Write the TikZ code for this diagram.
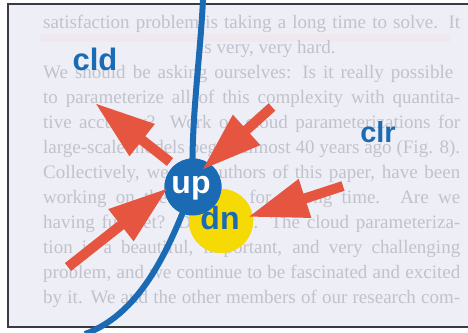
\documentclass[tikz,border=0pt]{standalone}
\usepackage{fontspec}
\setmainfont{Liberation Serif}
\newfontfamily\lsans{Liberation Sans}
\usetikzlibrary{arrows.meta}
\definecolor{bgc}{HTML}{EEEEF6}
\definecolor{redc}{HTML}{E6553F}
\definecolor{bluec}{HTML}{1A6AB4}
\definecolor{yelc}{HTML}{F6DA06}
\definecolor{ghost}{HTML}{C2C2CD}
\definecolor{framec}{HTML}{3A3A42}
\tikzset{
  bgtext/.style={anchor=base west, inner sep=0, text=ghost, font=\fontsize{19bp}{23bp}\selectfont},
  fatarrow/.style={draw=redc, line width=10bp, -{Triangle[length=60bp,width=38bp]}},
  bluecurve/.style={draw=bluec, line width=6bp},
  lbl/.style={anchor=base, inner sep=0, text=bluec, font=\lsans\bfseries\fontsize{31bp}{34bp}\selectfont},
}
\newcommand{\jline}[1]{\makebox[417bp][s]{#1}}
\begin{document}
\begin{tikzpicture}[x=1bp,y=-1bp]
\useasboundingbox (0,0) rectangle (468,332);
\fill[white] (0,0) rectangle (468,332);
\fill[bgc] (8,4) rectangle (468,327);
\begin{scope}
\clip (8,4) rectangle (468,327);
\fill[pink,opacity=0.12] (40,34) rectangle (450,42);
\node[bgtext] (t1) at (43,28) {\jline{satisfaction problem is taking a long time to solve. It}};
\node[bgtext] (t2) at (199,53) {is very, very hard.};
\node[bgtext] (t3) at (43,78) {\makebox[410bp][s]{We should be asking ourselves: Is it really possible}};
\node[bgtext] (t4) at (43,103) {\jline{to parameterize all of this complexity with quantita-}};
\node[bgtext] (t5) at (43,128) {\jline{tive accuracy? Work on cloud parameterizations for}};
\node[bgtext] (t6) at (43,153) {\jline{large-scale models began almost 40 years ago (Fig. 8).}};
\node[bgtext] (t7) at (43,178) {\jline{Collectively, we, the authors of this paper, have been}};
\node[bgtext] (t8) at (43,203) {\jline{working on the problem for a long time. Are we}};
\node[bgtext] (t9) at (43,228) {\jline{having fun yet? Definitely. The cloud parameteriza-}};
\node[bgtext] (t10) at (43,253) {\jline{tion is a beautiful, important, and very challenging}};
\node[bgtext] (t11) at (43,278) {\jline{problem, and we continue to be fascinated and excited}};
\node[bgtext] (t12) at (43,303) {\jline{by it. We and the other members of our research com-}};
\end{scope}
% frame
\draw[framec, line width=2bp] (8,4) -- (468,4);
\draw[framec, line width=1.5bp] (8,3) -- (8,328);
\draw[framec, line width=2.5bp] (7,327) -- (468,327);
% nodes
\coordinate (ltop) at (203,0);
\coordinate (lbot) at (85,334);
\node[circle, fill=yelc, minimum size=64bp, inner sep=0] (dn) at (221,221) {};
\node[circle, fill=bluec, minimum size=57bp, inner sep=0] (up) at (193,187) {};
% blue curve
\draw[bluecurve] (ltop) .. controls (200,60) and (190,130) .. (up.center);
\draw[bluecurve] (up.center) .. controls (172,240) and (145,312) .. (lbot);
\node[circle, fill=yelc, minimum size=64bp, inner sep=0] (dnb) at (221,221) {};
\node[circle, fill=bluec, minimum size=57bp, inner sep=0] (upb) at (193,187) {};
% arrows
\coordinate (a1s) at (170,162); \coordinate (a1e) at (95,103);
\coordinate (a2s) at (272,107); \coordinate (a2e) at (202,170);
\coordinate (a3s) at (68,267);  \coordinate (a3e) at (168,188);
\coordinate (a4s) at (343,186); \coordinate (a4e) at (248,217);
\draw[fatarrow] (a1s) -- (a1e);
\draw[fatarrow] (a2s) -- (a2e);
\draw[fatarrow] (a3s) -- (a3e);
\draw[fatarrow] (a4s) -- (a4e);
% labels
\node[lbl, text=white, font=\lsans\bfseries\fontsize{32bp}{34bp}\selectfont] (uplbl) at (191,193) {up};
\node[lbl, font=\lsans\bfseries\fontsize{32bp}{34bp}\selectfont] (dnlbl) at (220,229) {dn};
\node[lbl] (cld) at (95,70) {cld};
\node[lbl, font=\lsans\bfseries\fontsize{29bp}{32bp}\selectfont] (clr) at (378,142) {clr};
\end{tikzpicture}
\end{document}
